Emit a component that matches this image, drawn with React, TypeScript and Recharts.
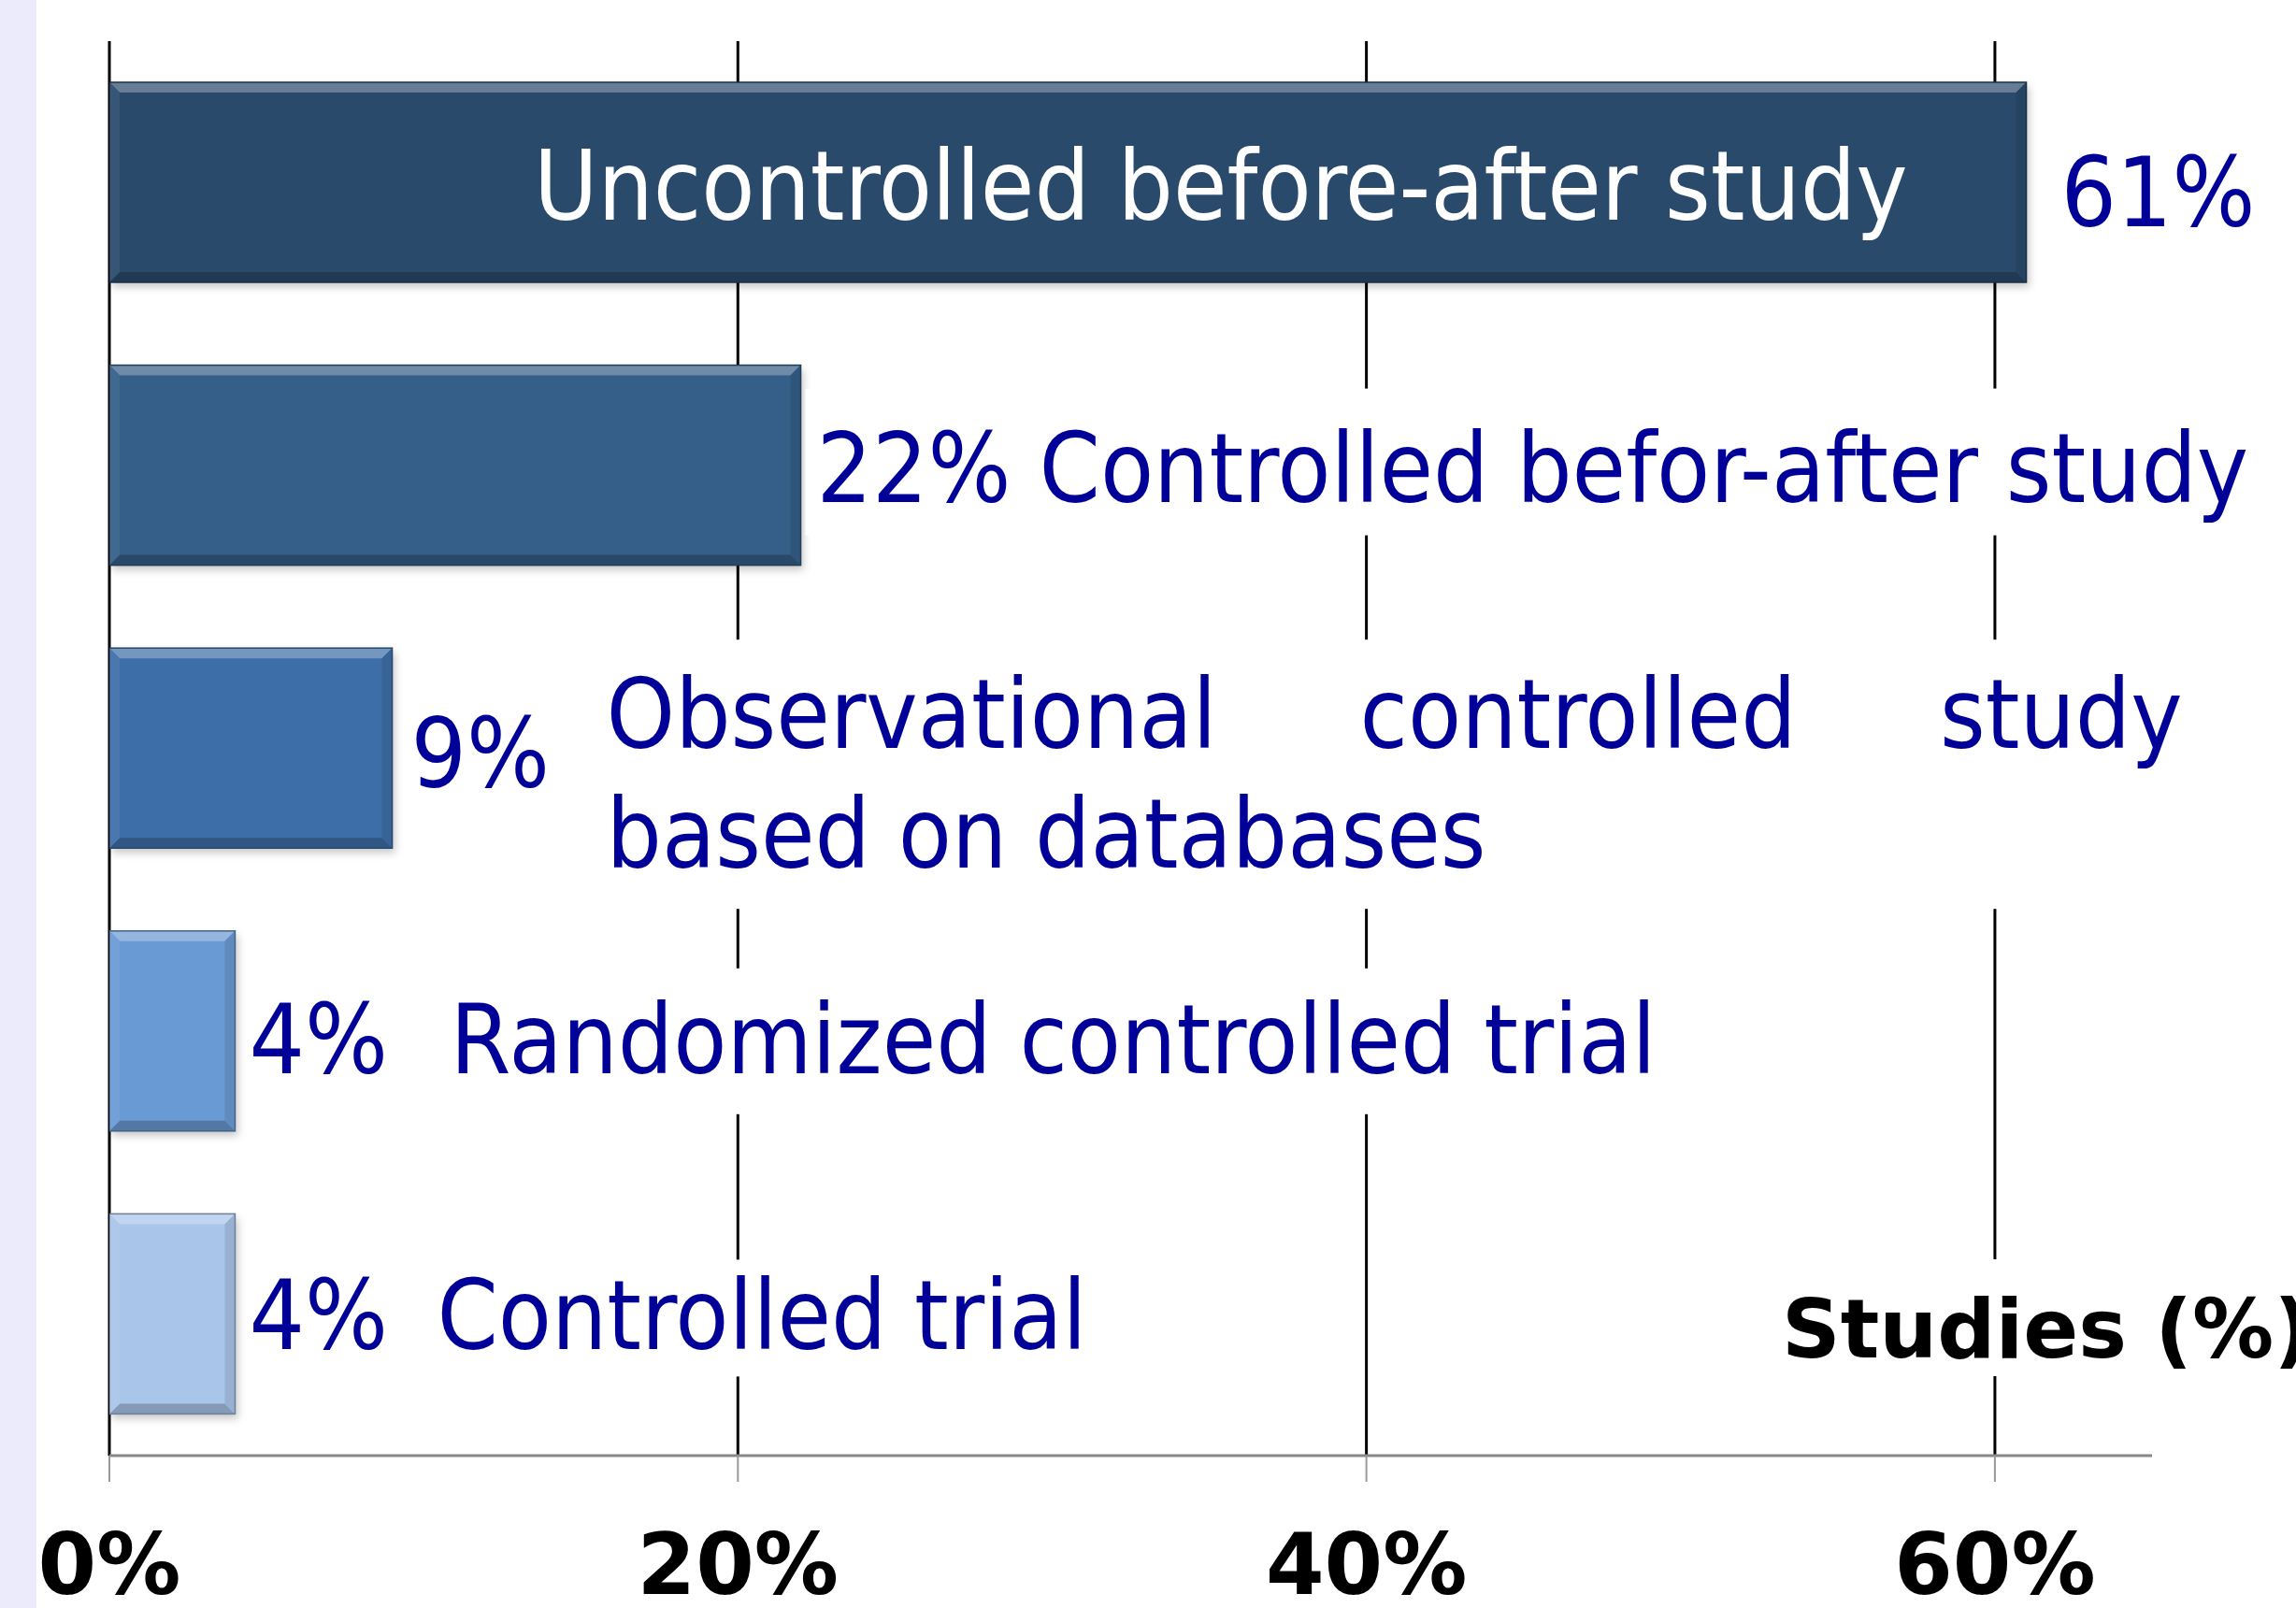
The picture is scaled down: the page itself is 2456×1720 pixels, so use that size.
import React from 'react'
import {
  BarChart,
  Bar,
  XAxis,
  YAxis,
  CartesianGrid,
  LabelList,
  Label,
} from 'recharts'

// study designs, top to bottom
const designs = [
  'Uncontrolled before-after study',
  'Controlled befor-after study',
  'Observational controlled study based on databases',
  'Randomized controlled trial',
  'Controlled trial',
]
const shares = [61, 22, 9, 4, 4]
const barColors = ['#2A4A6C', '#355E88', '#3E6EA8', '#6A9AD3', '#A9C5E9']
const xTicks = [0, 20, 40, 60]
const axisTitle = 'Studies (%)'

const data = designs.map((name, i) => ({
  name,
  share: shares[i],
  color: barColors[i],
}))

const TEXT_BLUE = '#000099'
const LABEL_FONT = '"DejaVu Sans Condensed", "DejaVu Sans", sans-serif'
const BOLD_FONT = '"DejaVu Sans", Verdana, sans-serif'
const FS = 104

// mix a hex colour with white (amt > 0) or black (amt < 0)
const shade = (hex: string, amt: number) => {
  const n = parseInt(hex.slice(1), 16)
  const ch = [(n >> 16) & 255, (n >> 8) & 255, n & 255].map(c =>
    Math.round(amt >= 0 ? c + (255 - c) * amt : c * (1 + amt)),
  )
  return `rgb(${ch.join(',')})`
}

const BevelBar = (props: any) => {
  const { x, y, width, height, payload } = props
  if (!width || width <= 0) return null
  const c = payload.color
  const b = 11
  const r = x + width
  const btm = y + height
  return (
    <g>
      <rect
        x={x + 3}
        y={y + 5}
        width={width}
        height={height}
        fill="rgba(0,0,0,0.22)"
        filter="url(#barShadow)"
      />
      <rect x={x} y={y} width={width} height={height} fill={c} />
      <polygon
        points={`${x},${y} ${r},${y} ${r - b},${y + b} ${x + b},${y + b}`}
        fill={shade(c, 0.28)}
      />
      <polygon
        points={`${x},${btm} ${r},${btm} ${r - b},${btm - b} ${x + b},${btm - b}`}
        fill={shade(c, -0.22)}
      />
      <polygon
        points={`${r},${y} ${r},${btm} ${r - b},${btm - b} ${r - b},${y + b}`}
        fill={shade(c, -0.1)}
      />
      <polygon
        points={`${x},${y} ${x},${btm} ${x + b},${btm - b} ${x + b},${y + b}`}
        fill={shade(c, 0.06)}
      />
      <rect
        x={x}
        y={y}
        width={width}
        height={height}
        fill="none"
        stroke={shade(c, -0.35)}
        strokeWidth={1.5}
      />
    </g>
  )
}

const renderLabel = (p: any) => {
  const { x, y, width, height, index } = p
  const xe = x + width
  const yc = y + height / 2
  const pct = `${shares[index]}%`
  const name = designs[index]
  const common = { fontFamily: LABEL_FONT, fontSize: FS, fill: TEXT_BLUE }

  if (index === 0) {
    return (
      <g>
        <text {...common} x={xe - 127} y={yc + 40} textAnchor="end" fill="#fff">
          {name}
        </text>
        <text {...common} x={xe + 37} y={yc + 47}>
          {pct}
        </text>
      </g>
    )
  }

  if (index === 2) {
    const words = name.split(' ')
    const left = xe + 229
    return (
      <g>
        <rect x={left - 5} y={yc - 116} width={1695} height={288} fill="#fff" />
        <text {...common} x={xe + 20} y={yc + 42}>
          {pct}
        </text>
        <text {...common} x={left} y={yc}>
          {words[0]}
        </text>
        <text {...common} x={left + 806} y={yc}>
          {words[1]}
        </text>
        <text {...common} x={left + 1686} y={yc} textAnchor="end">
          {words[2]}
        </text>
        <text {...common} x={left} y={yc + 128}>
          {words.slice(3).join(' ')}
        </text>
      </g>
    )
  }

  // value then name, to the right of the bar
  const layout: Record<number, any> = {
    1: { gap: 17, nameX: 255, base: 39, box: [5, -82, 1560, 157] },
    3: { gap: 15, nameX: 230, base: 45, box: [219, -67, 1300, 156] },
    4: { gap: 15, nameX: 216, base: 38, box: [203, -58, 706, 125] },
  }
  const l = layout[index]
  return (
    <g>
      <rect
        x={xe + l.box[0]}
        y={yc + l.box[1]}
        width={l.box[2]}
        height={l.box[3]}
        fill="#fff"
      />
      <text {...common} x={xe + l.gap} y={yc + l.base}>
        {pct}
      </text>
      <text {...common} x={xe + l.nameX} y={yc + l.base}>
        {name}
      </text>
    </g>
  )
}

const PercentTick = (props: any) => {
  const { x, y, payload } = props
  return (
    <text
      x={x}
      y={y + 118}
      textAnchor="middle"
      fontFamily={BOLD_FONT}
      fontWeight="bold"
      fontSize={90}
      fill="#000"
    >
      {`${payload.value}%`}
    </text>
  )
}

const AxisTitle = (props: any) => {
  const vb = props.viewBox || {}
  const tx = vb.x + vb.width - 396
  const ty = vb.y - 105
  return (
    <g>
      <rect x={tx - 8} y={ty - 105} width={600} height={125} fill="#fff" />
      <text
        x={tx}
        y={ty}
        fontFamily={BOLD_FONT}
        fontWeight="bold"
        fontSize={87}
        fill="#000"
      >
        {axisTitle}
      </text>
    </g>
  )
}

export default function App() {
  return (
    <div
      style={{
        position: 'absolute',
        left: 0,
        top: 0,
        width: 2456,
        height: 1720,
        background: '#fff',
        overflow: 'hidden',
      }}
    >
      <div
        style={{
          position: 'absolute',
          left: 0,
          top: 0,
          width: 39,
          height: 1720,
          background: '#EBEBFB',
        }}
      />
      <BarChart
        width={2456}
        height={1720}
        layout="vertical"
        data={data}
        margin={{ top: 44, right: 154, bottom: 0, left: 117 }}
        style={{ position: 'absolute', left: 0, top: 0 }}
      >
        <defs>
          <filter id="barShadow" x="-10%" y="-10%" width="120%" height="130%">
            <feGaussianBlur stdDeviation="4" />
          </filter>
        </defs>
        {/* grid only at the labelled ticks, not at the domain end */}
        <CartesianGrid
          horizontal={false}
          vertical={true}
          syncWithTicks
          stroke="#000"
          strokeWidth={3}
        />
        <XAxis
          type="number"
          domain={[0, 65]}
          ticks={xTicks}
          allowDataOverflow
          height={163}
          tickSize={28}
          axisLine={{ stroke: '#888', strokeWidth: 3 }}
          tickLine={{ stroke: '#999', strokeWidth: 2 }}
          tick={<PercentTick />}
        >
          <Label content={<AxisTitle />} />
        </XAxis>
        <YAxis type="category" dataKey="name" hide />
        <Bar
          dataKey="share"
          barSize={214}
          shape={<BevelBar />}
          isAnimationActive={false}
        >
          <LabelList dataKey="share" content={renderLabel} />
        </Bar>
      </BarChart>
    </div>
  )
}
